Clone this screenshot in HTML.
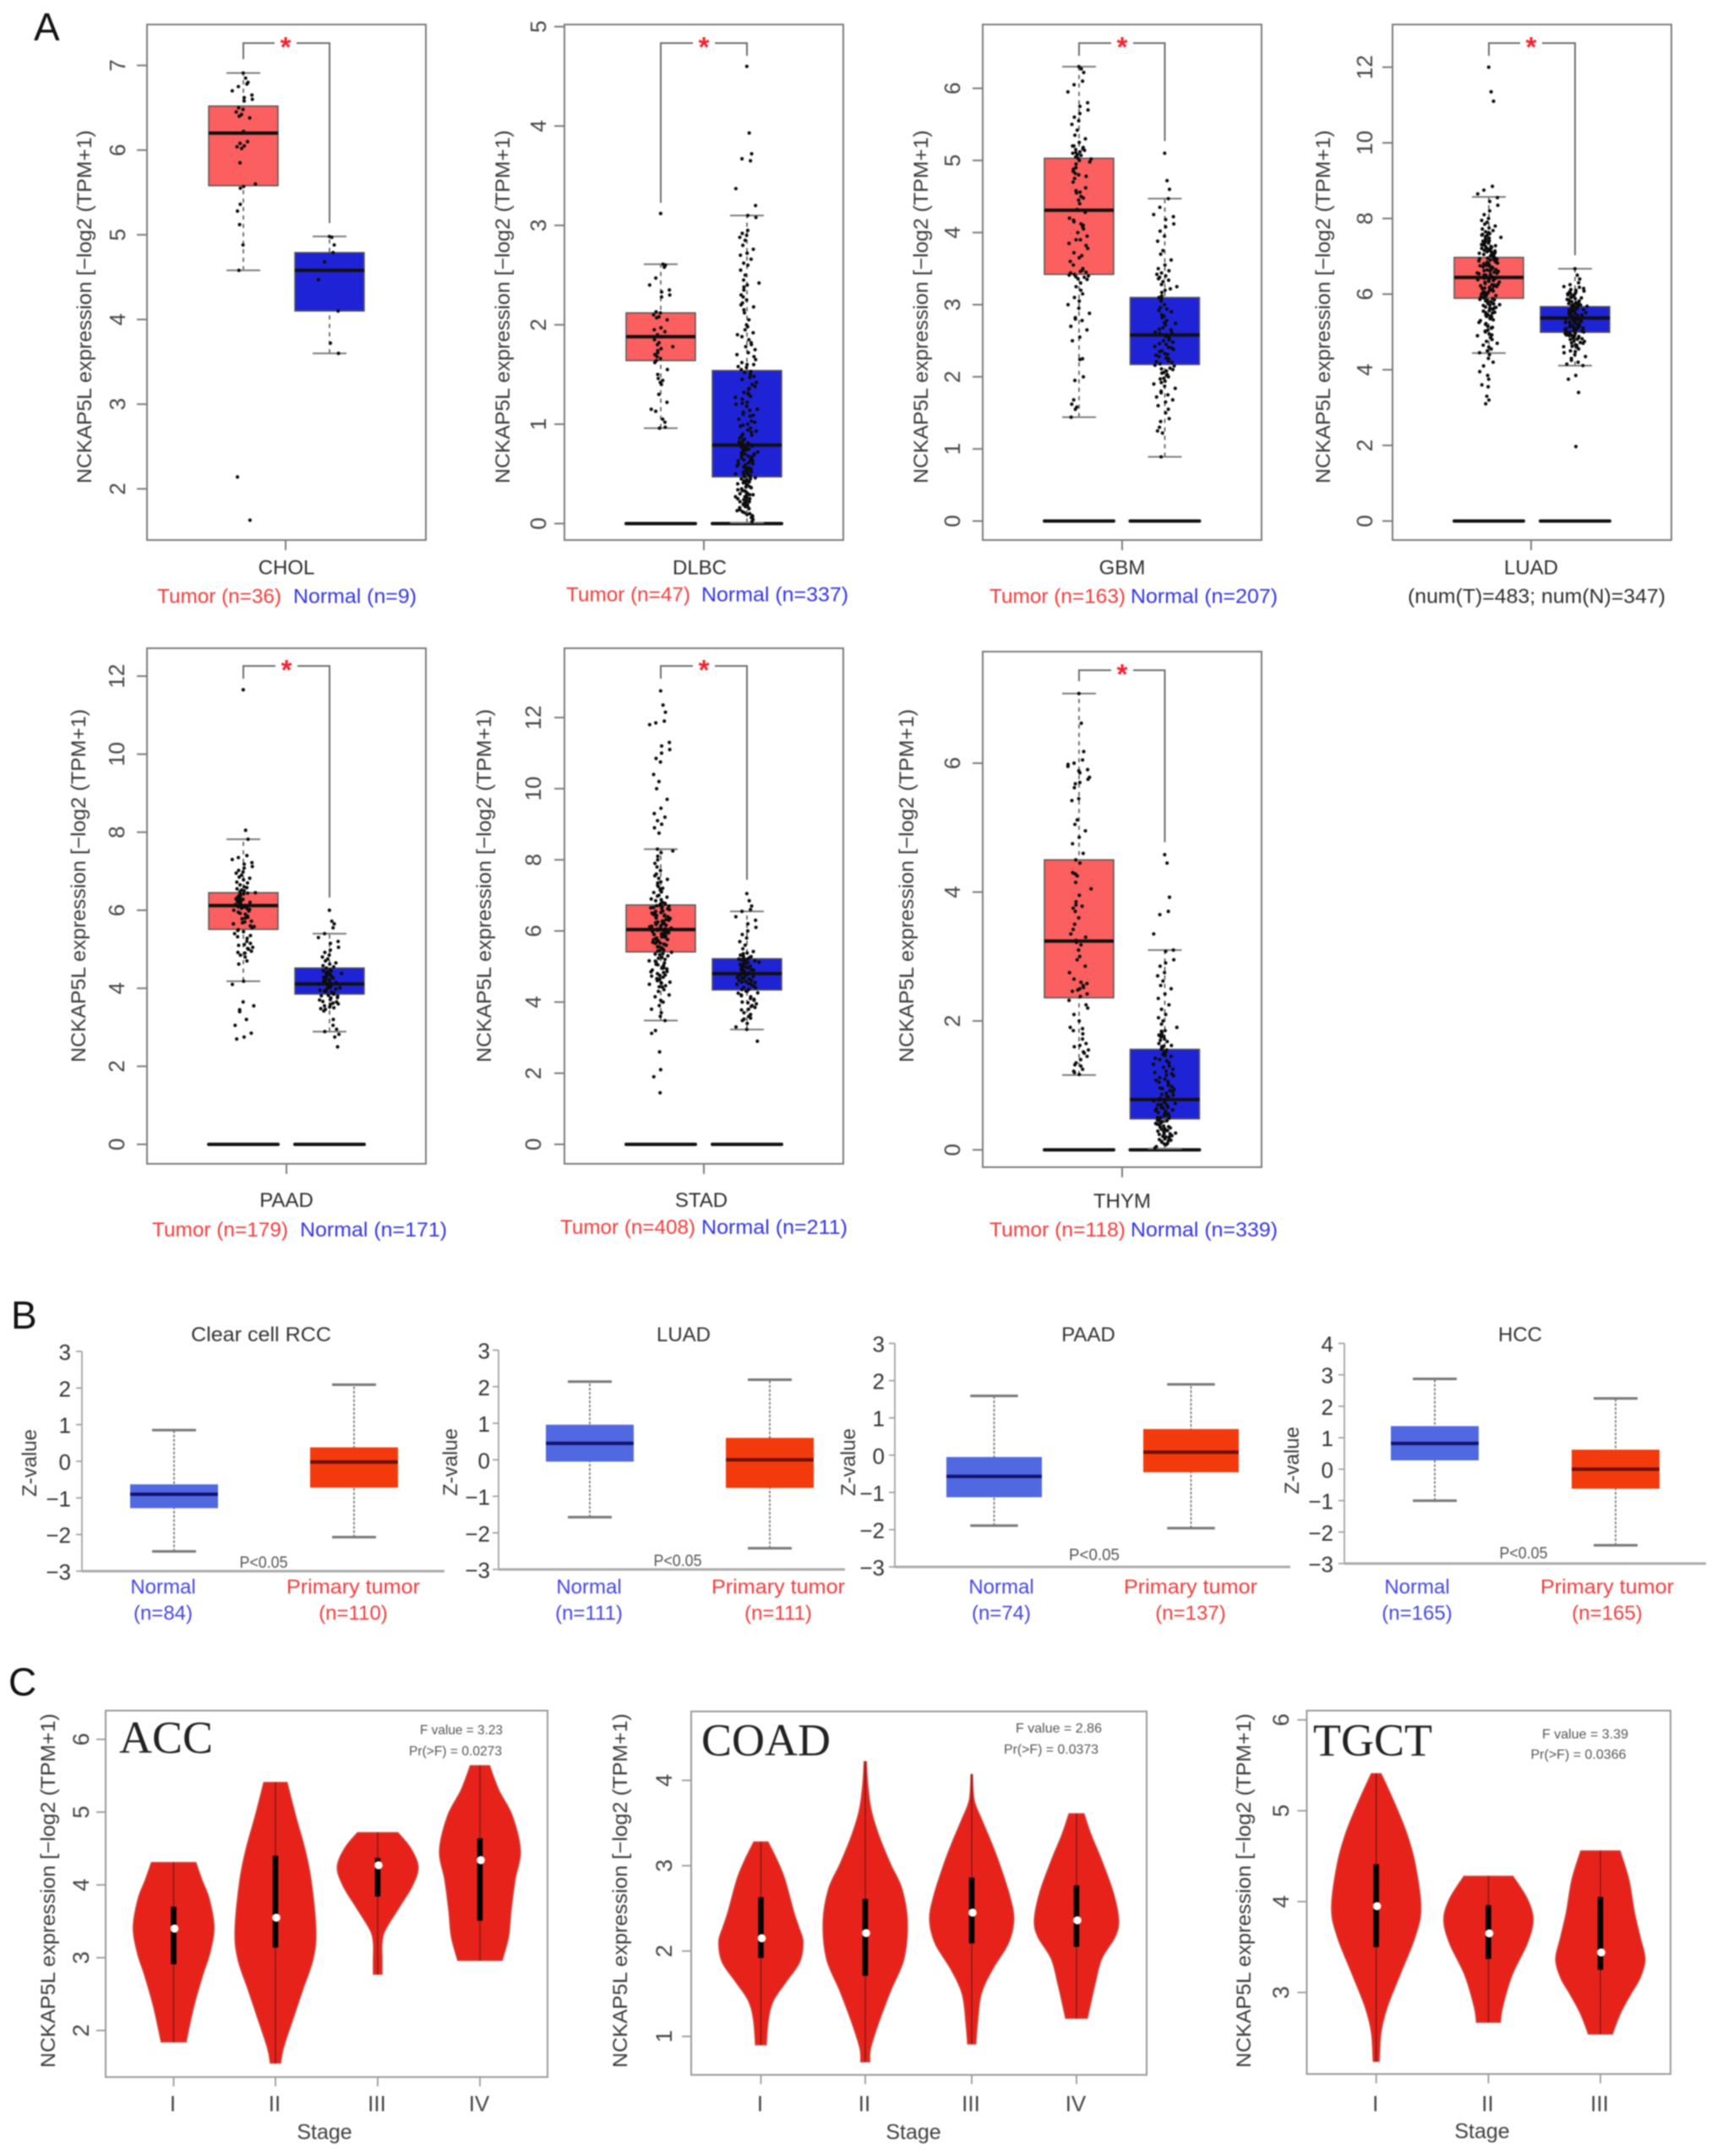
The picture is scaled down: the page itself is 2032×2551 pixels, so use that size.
<!DOCTYPE html>
<html lang="en">
<head>
<meta charset="utf-8">
<title>NCKAP5L expression figure</title>
<style>
html,body{margin:0;padding:0;background:#fff}
svg{display:block;filter:blur(.85px)}
text{font-family:"Liberation Sans",sans-serif}
.letter{font-size:46px;fill:#111}
.ytitle{font-size:24px;fill:#3a3a3a;text-anchor:middle}
.cat{font-size:24px;fill:#2e2e2e;text-anchor:middle}
.red{font-size:24px;fill:#f23b3b}
.blue{font-size:24px;fill:#3434e0}
.dark{font-size:24px;fill:#2e2e2e}
.btitle{font-size:24px;fill:#333;text-anchor:middle}
.zt{font-size:24px;fill:#3a3a3a;text-anchor:middle}
.pv{font-size:19px;fill:#555;text-anchor:middle}
.redm{font-size:24px;fill:#f23b3b;text-anchor:middle}
.bluem{font-size:24px;fill:#4646e0;text-anchor:middle}
.serif{font-family:"Liberation Serif",serif;font-size:54px;fill:#222}
.stat{font-size:16px;fill:#555;text-anchor:middle}
.stage{font-size:25px;fill:#3f3f3f;text-anchor:middle}
</style>
</head>
<body>
<svg id="figure" xmlns="http://www.w3.org/2000/svg" width="2032" height="2551" viewBox="0 0 2032 2551">
<rect x="0" y="0" width="2032" height="2551" fill="#fff"/>
<text class="letter" x="40" y="48">A</text>
<text class="letter" x="13" y="1572">B</text>
<text class="letter" x="10" y="2006">C</text>

<g id="plot-chol"></g>
<g id="plot-dlbc"></g>
<g id="plot-gbm"></g>
<g id="plot-luad"></g>
<g id="plot-paad"></g>
<g id="plot-stad"></g>
<g id="plot-thym"></g>

<g>
<text class="ytitle" transform="translate(108,363) rotate(-90)" textLength="418" lengthAdjust="spacingAndGlyphs">NCKAP5L expression [−log2 (TPM+1)</text>
<text class="cat" x="339" y="679.5">CHOL</text>
<text class="red" x="186" y="713.5" textLength="147" lengthAdjust="spacingAndGlyphs">Tumor (n=36)</text>
<text class="blue" x="347" y="713.5" textLength="146" lengthAdjust="spacingAndGlyphs">Normal (n=9)</text>

<text class="ytitle" transform="translate(603,363) rotate(-90)" textLength="418" lengthAdjust="spacingAndGlyphs">NCKAP5L expression [−log2 (TPM+1)</text>
<text class="cat" x="828" y="679.5">DLBC</text>
<text class="red" x="670" y="711.5" textLength="147" lengthAdjust="spacingAndGlyphs">Tumor (n=47)</text>
<text class="blue" x="830" y="711.5" textLength="174" lengthAdjust="spacingAndGlyphs">Normal (n=337)</text>

<text class="ytitle" transform="translate(1098,363) rotate(-90)" textLength="418" lengthAdjust="spacingAndGlyphs">NCKAP5L expression [−log2 (TPM+1)</text>
<text class="cat" x="1328" y="679.5">GBM</text>
<text class="red" x="1171" y="713.5" textLength="161" lengthAdjust="spacingAndGlyphs">Tumor (n=163)</text>
<text class="blue" x="1338" y="713.5" textLength="174" lengthAdjust="spacingAndGlyphs">Normal (n=207)</text>

<text class="ytitle" transform="translate(1574,363) rotate(-90)" textLength="418" lengthAdjust="spacingAndGlyphs">NCKAP5L expression [−log2 (TPM+1)</text>
<text class="cat" x="1812" y="679.5">LUAD</text>
<text class="dark" x="1666" y="713.5" textLength="305" lengthAdjust="spacingAndGlyphs">(num(T)=483; num(N)=347)</text>

<text class="ytitle" transform="translate(101,1048) rotate(-90)" textLength="418" lengthAdjust="spacingAndGlyphs">NCKAP5L expression [−log2 (TPM+1)</text>
<text class="cat" x="339" y="1428">PAAD</text>
<text class="red" x="180" y="1463" textLength="161" lengthAdjust="spacingAndGlyphs">Tumor (n=179)</text>
<text class="blue" x="355" y="1463" textLength="174" lengthAdjust="spacingAndGlyphs">Normal (n=171)</text>

<text class="ytitle" transform="translate(581,1048) rotate(-90)" textLength="418" lengthAdjust="spacingAndGlyphs">NCKAP5L expression [−log2 (TPM+1)</text>
<text class="cat" x="830" y="1428">STAD</text>
<text class="red" x="663" y="1460" textLength="160" lengthAdjust="spacingAndGlyphs">Tumor (n=408)</text>
<text class="blue" x="830" y="1460" textLength="173" lengthAdjust="spacingAndGlyphs">Normal (n=211)</text>

<text class="ytitle" transform="translate(1081,1048) rotate(-90)" textLength="418" lengthAdjust="spacingAndGlyphs">NCKAP5L expression [−log2 (TPM+1)</text>
<text class="cat" x="1328" y="1429">THYM</text>
<text class="red" x="1171" y="1463" textLength="161" lengthAdjust="spacingAndGlyphs">Tumor (n=118)</text>
<text class="blue" x="1338" y="1463" textLength="174" lengthAdjust="spacingAndGlyphs">Normal (n=339)</text>
</g>

<g id="zplot-rcc"></g>
<g id="zplot-luad"></g>
<g id="zplot-paad"></g>
<g id="zplot-hcc"></g>

<g>
<text class="btitle" x="309" y="1587" textLength="166" lengthAdjust="spacingAndGlyphs">Clear cell RCC</text>
<text class="zt" transform="translate(43,1731) rotate(-90)">Z-value</text>
<text class="pv" x="312" y="1855" textLength="57" lengthAdjust="spacingAndGlyphs">P&lt;0.05</text>
<text class="bluem" x="193" y="1885.5">Normal</text>
<text class="bluem" x="193" y="1916.5">(n=84)</text>
<text class="redm" x="418" y="1885.5" textLength="158" lengthAdjust="spacingAndGlyphs">Primary tumor</text>
<text class="redm" x="418" y="1916.5">(n=110)</text>

<text class="btitle" x="809" y="1587">LUAD</text>
<text class="zt" transform="translate(541,1730) rotate(-90)">Z-value</text>
<text class="pv" x="802" y="1853" textLength="57" lengthAdjust="spacingAndGlyphs">P&lt;0.05</text>
<text class="bluem" x="697" y="1885.5">Normal</text>
<text class="bluem" x="697" y="1916.5">(n=111)</text>
<text class="redm" x="921" y="1885.5" textLength="158" lengthAdjust="spacingAndGlyphs">Primary tumor</text>
<text class="redm" x="921" y="1916.5">(n=111)</text>

<text class="btitle" x="1288" y="1587">PAAD</text>
<text class="zt" transform="translate(1012,1730) rotate(-90)">Z-value</text>
<text class="pv" x="1295" y="1846" textLength="60" lengthAdjust="spacingAndGlyphs">P&lt;0.05</text>
<text class="bluem" x="1185" y="1885.5">Normal</text>
<text class="bluem" x="1185" y="1916.5">(n=74)</text>
<text class="redm" x="1409" y="1885.5" textLength="158" lengthAdjust="spacingAndGlyphs">Primary tumor</text>
<text class="redm" x="1409" y="1916.5">(n=137)</text>

<text class="btitle" x="1799" y="1587">HCC</text>
<text class="zt" transform="translate(1537,1728) rotate(-90)">Z-value</text>
<text class="pv" x="1803" y="1844" textLength="57" lengthAdjust="spacingAndGlyphs">P&lt;0.05</text>
<text class="bluem" x="1677" y="1885.5">Normal</text>
<text class="bluem" x="1677" y="1916.5">(n=165)</text>
<text class="redm" x="1902" y="1885.5" textLength="158" lengthAdjust="spacingAndGlyphs">Primary tumor</text>
<text class="redm" x="1902" y="1916.5">(n=165)</text>
</g>

<g id="violin-acc"></g>
<g id="violin-coad"></g>
<g id="violin-tgct"></g>

<g>
<text class="ytitle" transform="translate(65,2237) rotate(-90)" textLength="419" lengthAdjust="spacingAndGlyphs">NCKAP5L expression [−log2 (TPM+1)</text>
<text class="serif" x="141" y="2074">ACC</text>
<text class="stat" x="546" y="2052" textLength="98" lengthAdjust="spacingAndGlyphs">F value = 3.23</text>
<text class="stat" x="539" y="2077" textLength="110" lengthAdjust="spacingAndGlyphs">Pr(&gt;F) = 0.0273</text>
<text class="stage" x="384" y="2531">Stage</text>

<text class="ytitle" transform="translate(742,2237) rotate(-90)" textLength="419" lengthAdjust="spacingAndGlyphs">NCKAP5L expression [−log2 (TPM+1)</text>
<text class="serif" x="830" y="2077">COAD</text>
<text class="stat" x="1253" y="2050" textLength="102" lengthAdjust="spacingAndGlyphs">F value = 2.86</text>
<text class="stat" x="1244" y="2075" textLength="112" lengthAdjust="spacingAndGlyphs">Pr(&gt;F) = 0.0373</text>
<text class="stage" x="1081" y="2531">Stage</text>

<text class="ytitle" transform="translate(1480,2237) rotate(-90)" textLength="419" lengthAdjust="spacingAndGlyphs">NCKAP5L expression [−log2 (TPM+1)</text>
<text class="serif" x="1554" y="2077">TGCT</text>
<text class="stat" x="1876" y="2057" textLength="102" lengthAdjust="spacingAndGlyphs">F value = 3.39</text>
<text class="stat" x="1868" y="2081" textLength="113" lengthAdjust="spacingAndGlyphs">Pr(&gt;F) = 0.0366</text>
<text class="stage" x="1754" y="2530">Stage</text>
</g>
</svg>

<script>
/* ---------- Panel A data: box stats are [lowerWhisker, q1, median, q3, upperWhisker] ---------- */
const cholTicks=[2,3,4,5,6,7];
const cholTumorBox=[4.58,5.58,6.2,6.52,6.91];
const cholNormalBox=[3.6,4.1,4.58,4.79,4.98];
const cholTumorPoints=[6.91,6.85,6.8,6.78,6.75,6.7,6.65,6.62,6.6,6.58,6.5,6.48,6.45,6.42,6.4,6.38,6.22,6.2,6.1,6.08,6.05,6.04,6.02,5.85,5.6,5.57,5.55,5.36,5.28,5.12,4.88,4.58,2.14,1.63];
const cholNormalPoints=[4.98,4.97,4.88,4.79,4.68,4.47,4.1,3.72,3.6];

const dlbcTicks=[0,1,2,3,4,5];
const dlbcTumorBox=[0.96,1.64,1.88,2.12,2.61];
const dlbcNormalBox=[0.01,0.47,0.79,1.54,3.1];
const dlbcTumorPoints=[3.12,2.61,2.6,2.58,2.47,2.4,2.35,2.33,2.3,2.28,2.13,2.12,2.1,2.08,2.07,2.05,1.97,1.95,1.93,1.9,1.88,1.85,1.82,1.8,1.78,1.76,1.74,1.72,1.7,1.68,1.66,1.64,1.62,1.55,1.5,1.46,1.44,1.42,1.4,1.3,1.22,1.15,1.13,1.05,1.02,0.97,0.96];
const dlbcNormalPoints=[4.6,3.93,3.72,3.65,3.67,3.37,3.2,3.1,3.08,2.95,2.92,2.9,2.88,2.85,2.8,2.76,2.72,2.7,2.66,2.62,2.6,2.55,2.5,2.45,2.42,2.4,2.38,2.35,2.3,2.28,2.25,2.22,2.2,2.18,2.15,2.12,2.05,2,1.98,1.95,1.92,1.9,1.88,1.85,1.82,1.8,1.78,1.75,1.72,1.7,1.68,1.65,1.62,1.6,1.58,1.55,1.53,1.5,1.48,1.45,1.42,1.4,1.38,1.35,1.32,1.3,1.28,1.25,1.22,1.2,1.18,1.15,1.12,1.1,1.08,1.05,1.02,1,0.98,0.96,0.94,0.92,0.9,0.88,0.86,0.85,0.84,0.82,0.8,0.79,0.78,0.76,0.75,0.74,0.72,0.71,0.7,0.68,0.67,0.66,0.65,0.64,0.62,0.61,0.6,0.58,0.57,0.56,0.55,0.54,0.52,0.51,0.5,0.49,0.48,0.47,0.46,0.45,0.44,0.42,0.41,0.4,0.39,0.38,0.36,0.35,0.34,0.32,0.31,0.3,0.28,0.27,0.26,0.24,0.23,0.22,0.2,0.19,0.18,0.16,0.15,0.14,0.12,0.1,0.08,0.06,0.04,0.02,1.6,1.57,1.52,1.47,1.36,1.31,1.27,1.21,1.14,1.09,1.03,0.99,0.93,0.89,0.83,0.81,0.77,0.73,0.69,0.69,0.63,0.59,0.55,0.53,0.5,0.47,0.43,0.43,0.37,0.33,0.33,0.29,0.29,0.25,0.25,0.21,0.17,0.17,0.13,0.11,0.09,0.07,0.81,0.77,0.74,0.7,0.66,0.63,0.6,0.56,0.52,0.48,0.45,0.41,0.37,0.3,0.27,0.22,0.19];

const gbmTicks=[0,1,2,3,4,5,6];
const gbmTumorBox=[1.44,3.42,4.31,5.03,6.3];
const gbmNormalBox=[0.89,2.17,2.58,3.1,4.47];
const gbmTumorPoints=[6.3,6.27,6.22,6.1,6.05,5.95,5.8,5.75,5.7,5.65,5.6,5.55,5.5,5.42,5.35,5.3,5.25,5.2,5.18,5.15,5.12,5.1,5.08,5.05,5.02,5,4.95,4.9,4.85,4.82,4.8,4.75,4.7,4.62,4.58,4.55,4.5,4.45,4.4,4.32,4.28,4.2,4.15,4.12,4.1,4.05,4,3.95,3.9,3.85,3.82,3.78,3.72,3.65,3.6,3.55,3.5,3.48,3.45,3.42,3.4,3.38,3.35,3.3,3.25,3.2,3.15,3.1,3.05,3,2.95,2.88,2.82,2.8,2.78,2.7,2.65,2.55,2.5,2.25,2.24,2,1.95,1.68,1.62,1.58,1.55,1.44,5.2,5.16,5.14,5.11,5.07,5.03,4.98,4.88,4.78,4.56,4.48,4.17,4.08,3.9,3.68,3.46,3.44,3.41,3.39,3.36];
const gbmNormalPoints=[5.1,4.72,4.6,4.47,4.35,4.25,4.22,4.18,4.12,4.08,4.02,3.95,3.88,3.75,3.7,3.62,3.55,3.5,3.47,3.44,3.4,3.36,3.32,3.28,3.25,3.2,3.17,3.12,3.1,3.05,3,2.96,2.92,2.9,2.86,2.82,2.78,2.75,2.72,2.68,2.65,2.62,2.6,2.58,2.55,2.52,2.5,2.48,2.45,2.42,2.4,2.38,2.35,2.32,2.3,2.28,2.25,2.22,2.2,2.18,2.15,2.12,2.1,2.08,2.05,2.02,2,1.97,1.94,1.9,1.87,1.84,1.8,1.78,1.75,1.72,1.68,1.65,1.6,1.55,1.5,1.42,1.38,1.3,1.25,1.22,0.89,3.42,3.38,3.34,3.22,3.08,2.94,2.84,2.74,2.66,2.61,2.56,2.51,2.46,2.41,2.36,2.31,2.26,2.21,2.16,2.11,2.06,2.03,1.98,1.92];

const luadTicks=[0,2,4,6,8,10,12];
const luadTumorBox=[4.44,5.89,6.44,6.97,8.57];
const luadNormalBox=[4.11,4.99,5.37,5.67,6.67];
const luadTumorPoints=[12,11.35,11.1,8.85,8.75,8.65,8.55,8.45,8.35,8.2,8.1,8,7.95,7.9,7.85,7.8,7.75,7.72,7.68,7.65,7.6,7.58,7.55,7.52,7.5,7.48,7.45,7.42,7.4,7.38,7.35,7.32,7.3,7.28,7.25,7.22,7.2,7.18,7.15,7.12,7.1,7.08,7.05,7.02,7,6.98,6.95,6.92,6.9,6.88,6.85,6.82,6.8,6.78,6.75,6.72,6.7,6.68,6.65,6.62,6.6,6.58,6.55,6.52,6.5,6.48,6.45,6.42,6.4,6.38,6.35,6.32,6.3,6.28,6.25,6.22,6.2,6.18,6.15,6.12,6.1,6.08,6.05,6.02,6,5.98,5.95,5.92,5.9,5.88,5.85,5.82,5.8,5.75,5.72,5.7,5.65,5.62,5.6,5.55,5.5,5.45,5.4,5.35,5.3,5.25,5.2,5.15,5.1,5.05,5,4.95,4.9,4.85,4.8,4.75,4.7,4.65,4.6,4.55,4.5,4.45,4.4,4.3,4.2,4.1,3.95,3.85,3.75,3.6,3.55,3.3,3.2,3.1,7.62,7.56,7.47,7.41,7.36,7.31,7.26,7.21,7.16,7.11,7.06,7.01,6.96,6.91,6.86,6.81,6.76,6.71,6.66,6.61,6.56,6.51,6.46,6.41,6.36,6.31,6.26,6.21,6.16,6.11,6.06,6.01,5.96,5.91,5.86,5.81,5.76,5.71,5.66,5.61,5.56,5.51,5.46,5.41,7.34,7.24,7.14,7.04,6.94,6.84,6.74,6.64,6.54,6.44,6.34,6.24,6.14,6.04,5.94,5.84,5.74,5.64,5.52,5.42,5.32,5.22,5.12,5.02,4.92];
const luadNormalPoints=[6.67,6.5,6.4,6.3,6.25,6.2,6.15,6.1,6.08,6.05,6.02,6,5.98,5.95,5.92,5.9,5.88,5.85,5.82,5.8,5.78,5.75,5.72,5.7,5.68,5.65,5.62,5.6,5.58,5.55,5.52,5.5,5.48,5.45,5.42,5.4,5.38,5.35,5.33,5.3,5.28,5.25,5.22,5.2,5.18,5.15,5.12,5.1,5.08,5.05,5.02,5,4.98,4.95,4.92,4.9,4.88,4.85,4.82,4.8,4.75,4.72,4.7,4.65,4.62,4.6,4.55,4.5,4.48,4.45,4.4,4.35,4.3,4.25,4.2,4.15,4.11,3.85,3.75,3.4,1.97,6.18,6.12,6.06,6.01,5.96,5.91,5.86,5.81,5.76,5.71,5.66,5.61,5.56,5.51,5.46,5.41,5.36,5.31,5.26,5.21,5.16,5.11,5.06,5.01,4.96,4.91,4.86,4.81,4.76,4.71,4.66,4.61,5.74,5.69,5.64,5.59,5.54,5.49,5.44,5.39,5.34,5.29,5.24,5.19,5.14,5.09,5.04,4.99,4.94,4.89,4.84];

const paadTicks=[0,2,4,6,8,10,12];
const paadTumorBox=[4.18,5.51,6.12,6.45,7.82];
const paadNormalBox=[2.89,3.85,4.11,4.52,5.4];
const paadTumorPoints=[11.65,8.05,7.82,7.4,7.35,7.3,7.22,7.18,7.12,7.08,7.02,6.98,6.95,6.9,6.85,6.82,6.78,6.72,6.7,6.65,6.6,6.55,6.52,6.48,6.45,6.42,6.4,6.35,6.32,6.3,6.28,6.25,6.22,6.2,6.18,6.15,6.12,6.1,6.08,6.05,6.02,6,5.95,5.9,5.85,5.82,5.78,5.72,5.7,5.65,5.6,5.55,5.5,5.45,5.4,5.32,5.28,5.2,5.15,5.1,5.05,5,4.95,4.9,4.85,4.8,4.7,4.62,4.18,4.1,3.65,3.55,3.45,3.4,3.2,3.05,2.85,2.75,2.7,6.58,6.5,6.44,6.38,6.34,6.29,6.24,6.19,6.14,6.09,6.04,5.98,5.92,5.8,5.68,5.58,5.48,5.35,5.12,5.02,4.92];
const paadNormalPoints=[6,5.72,5.65,5.55,5.4,5.3,5.2,5.15,5.05,4.98,4.92,4.85,4.8,4.75,4.7,4.65,4.62,4.58,4.55,4.52,4.48,4.45,4.42,4.4,4.38,4.35,4.32,4.3,4.28,4.25,4.22,4.2,4.18,4.15,4.12,4.1,4.08,4.05,4.02,4,3.98,3.95,3.92,3.9,3.88,3.85,3.82,3.8,3.75,3.7,3.65,3.6,3.55,3.52,3.48,3.42,3.2,3.05,2.95,2.89,2.82,2.75,2.5,4.44,4.36,4.31,4.26,4.21,4.16,4.11,4.06,4.01,3.96,3.91,3.86,3.81,3.76,3.71,3.66,3.62,3.58,3.5,3.46];

const stadTicks=[0,2,4,6,8,10,12];
const stadTumorBox=[3.48,5.41,6.04,6.73,8.3];
const stadNormalBox=[3.23,4.34,4.8,5.22,6.55];
const stadTumorPoints=[12.75,12.35,12.15,11.9,11.85,11.8,11.3,11.2,11.1,11,10.85,10.75,10.4,10.2,10,9.7,9.45,9.3,9.2,9.1,9,8.9,8.75,8.3,8.25,8.2,8.1,8,7.9,7.8,7.7,7.6,7.55,7.45,7.35,7.25,7.2,7.15,7.1,7,6.95,6.9,6.85,6.8,6.78,6.75,6.72,6.7,6.68,6.65,6.62,6.6,6.55,6.52,6.5,6.48,6.45,6.42,6.4,6.38,6.35,6.32,6.3,6.28,6.25,6.22,6.2,6.18,6.15,6.12,6.1,6.08,6.05,6.02,6,5.98,5.95,5.92,5.9,5.88,5.85,5.82,5.8,5.78,5.75,5.72,5.7,5.68,5.65,5.62,5.6,5.55,5.5,5.45,5.4,5.35,5.3,5.25,5.2,5.15,5.1,5.05,5,4.95,4.9,4.85,4.8,4.75,4.7,4.65,4.6,4.55,4.5,4.42,4.35,4.3,4.2,4.15,4.05,4,3.9,3.8,3.7,3.6,3.48,3.2,3.12,2.6,2.1,1.9,1.45,7.48,7.38,7.28,7.18,7.08,6.98,6.88,6.76,6.66,6.56,6.46,6.36,6.26,6.16,6.06,5.96,5.86,5.76,5.66,5.56,5.46,5.36,5.26,5.16,5.06,4.96,4.86,4.76,4.66,4.56,4.46,6.71,6.63,6.53,6.43,6.33,6.23,6.13,6.03,5.93,5.83,5.73,5.63,5.53,5.43,5.33,5.23,5.13,5.03,4.93,4.83,4.73,4.63,4.53,4.43];
const stadNormalPoints=[7.05,6.85,6.7,6.6,6.55,6.4,6.3,6.2,6.1,6,5.9,5.8,5.7,5.6,5.5,5.42,5.38,5.32,5.28,5.25,5.22,5.2,5.18,5.15,5.12,5.1,5.08,5.05,5.02,5,4.98,4.95,4.92,4.9,4.88,4.85,4.82,4.8,4.78,4.75,4.72,4.7,4.68,4.65,4.62,4.6,4.58,4.55,4.52,4.5,4.45,4.4,4.35,4.3,4.25,4.2,4.15,4.1,4.05,4,3.95,3.9,3.85,3.8,3.7,3.6,3.55,3.48,3.4,3.3,3.23,2.9,5.36,5.3,5.26,5.21,5.16,5.11,5.06,5.01,4.96,4.91,4.86,4.81,4.76,4.71,4.66,4.61,4.56,4.51,4.46,4.41,4.36,4.31,4.26,4.18,4.08,3.98,3.88,3.78,3.65,3.52];

const thymTicks=[0,2,4,6];
const thymTumorBox=[1.16,2.36,3.24,4.5,7.08];
const thymNormalBox=[0.02,0.48,0.78,1.56,3.1];
const thymTumorPoints=[7.08,6.62,6.18,6.05,6,5.95,5.9,5.85,5.75,5.7,5.62,5.45,5.42,5.12,5.05,4.95,4.85,4.75,4.6,4.5,4.45,4.3,4.25,4.15,4.05,3.95,3.85,3.8,3.75,3.7,3.6,3.5,3.42,3.3,3.25,3.22,3.18,3.1,3,2.95,2.85,2.75,2.65,2.6,2.55,2.52,2.48,2.42,2.38,2.32,2.25,2.2,2.1,2,1.9,1.85,1.8,1.72,1.65,1.6,1.55,1.5,1.45,1.4,1.35,1.3,1.25,1.2,1.17,5.98,5.88,5.78,5.68,4.28,3.78,3.35,2.58,2.5,2.46,1.88,1.62,1.52,1.32,1.22];
const thymNormalPoints=[4.58,4.45,3.92,3.7,3.65,3.35,3.1,3.08,2.95,2.9,2.85,2.75,2.7,2.62,2.55,2.5,2.42,2.35,2.25,2.18,2.1,2.05,2,1.95,1.9,1.85,1.82,1.8,1.78,1.75,1.72,1.7,1.65,1.62,1.6,1.58,1.55,1.52,1.5,1.48,1.45,1.42,1.4,1.38,1.35,1.3,1.28,1.25,1.22,1.2,1.18,1.15,1.12,1.1,1.08,1.05,1.02,1,0.98,0.96,0.94,0.92,0.9,0.88,0.86,0.84,0.82,0.8,0.78,0.76,0.74,0.72,0.7,0.68,0.66,0.64,0.62,0.6,0.58,0.56,0.54,0.52,0.5,0.48,0.46,0.44,0.42,0.4,0.38,0.36,0.34,0.32,0.3,0.28,0.26,0.24,0.22,0.2,0.18,0.16,0.14,0.12,0.1,0.08,0.05,0.03,1.84,1.76,1.68,1.61,1.56,1.46,1.33,1.16,1.06,0.95,0.85,0.77,0.73,0.69,0.65,0.61,0.57,0.53,0.49,0.45,0.41,0.37,0.33,0.29,0.25,0.21,0.17,0.13,0.09,0.7,0.65,0.6,0.55,0.5,0.45,0.4,0.35,0.3,0.25,0.2,0.15];

/* ---------- Panel B data ---------- */
const rccTicks=[-3,-2,-1,0,1,2,3];
const rccNormalBox=[-2.46,-1.28,-0.9,-0.63,0.85];
const rccTumorBox=[-2.07,-0.72,-0.02,0.38,2.09];
const luadProteinTicks=[-3,-2,-1,0,1,2,3];
const luadProteinNormalBox=[-1.57,-0.05,0.45,0.96,2.14];
const luadProteinTumorBox=[-2.42,-0.77,0,0.6,2.19];
const paadProteinTicks=[-3,-2,-1,0,1,2,3];
const paadProteinNormalBox=[-1.89,-1.13,-0.57,-0.05,1.59];
const paadProteinTumorBox=[-1.96,-0.46,0.08,0.7,1.9];
const hccTicks=[-3,-2,-1,0,1,2,3,4];
const hccNormalBox=[-1,0.28,0.82,1.37,2.87];
const hccTumorBox=[-2.42,-0.62,0,0.62,2.25];

/* ---------- Panel C data: expression grid, relative density, inner box [q1, median, q3] ---------- */
const accTicks=[2,3,4,5,6];
const accStages=['I','II','III','IV'];
const accIValues=[4.31,4.07,3.81,3.42,3.07,2.76,2.33,1.84];
const accIDensity=[0.55,0.70,0.88,1,0.90,0.72,0.50,0.31];
const accIBox=[2.91,3.40,3.70];
const accIIValues=[5.41,4.95,4.51,4.07,3.38,2.98,2.55,2.2,1.76,1.55];
const accIIDensity=[0.29,0.5,0.72,0.88,1,0.93,0.67,0.46,0.2,0.13];
const accIIBox=[3.14,3.55,4.40];
const accIIIValues=[4.72,4.51,4.25,3.99,3.68,3.38,3.2,2.98,2.77];
const accIIIDensity=[0.5,0.81,1,0.86,0.52,0.19,0.11,0.11,0.11];
const accIIIBox=[3.84,4.27,4.37];
const accIVValues=[5.64,5.30,4.95,4.47,4.07,3.64,3.29,2.96];
const accIVDensity=[0.24,0.47,0.8,1,0.87,0.77,0.71,0.55];
const accIVBox=[3.51,4.34,4.64];

const coadTicks=[1,2,3,4];
const coadStages=['I','II','III','IV'];
const coadIValues=[3.28,3.06,2.84,2.46,2.28,2.11,1.87,1.64,1.42,1.2,0.9];
const coadIDensity=[0.17,0.39,0.57,0.78,0.9,1,0.92,0.6,0.3,0.18,0.13];
const coadIBox=[1.92,2.15,2.63];
const coadIIValues=[4.22,3.96,3.66,3.36,3.02,2.73,2.35,1.91,1.53,1.16,0.86,0.7];
const coadIIDensity=[0.03,0.06,0.14,0.32,0.6,0.87,1,0.92,0.6,0.32,0.13,0.11];
const coadIIBox=[1.71,2.21,2.61];
const coadIIIValues=[4.07,3.77,3.55,3.28,3.02,2.65,2.37,2.09,1.79,1.5,1.16,0.91];
const coadIIIDensity=[0.02,0.06,0.23,0.46,0.66,0.9,1,0.87,0.5,0.23,0.14,0.1];
const coadIIIBox=[2.09,2.45,2.86];
const coadIVValues=[3.61,3.36,3.06,2.69,2.37,2.17,1.91,1.61,1.21];
const coadIVDensity=[0.18,0.35,0.6,0.87,1,0.92,0.6,0.44,0.26];
const coadIVBox=[2.05,2.36,2.77];

const tgctTicks=[3,4,5,6];
const tgctStages=['I','II','III'];
const tgctIValues=[5.41,5.12,4.77,4.42,3.93,3.61,3.19,2.84,2.56,2.24];
const tgctIDensity=[0.11,0.38,0.67,0.87,1,0.87,0.53,0.25,0.11,0.07];
const tgctIBox=[3.5,3.95,4.41];
const tgctIIValues=[4.28,4.03,3.8,3.54,3.19,2.84,2.67];
const tgctIIDensity=[0.55,0.87,1,0.87,0.53,0.32,0.27];
const tgctIIBox=[3.37,3.65,3.96];
const tgctIIIValues=[4.56,4.24,3.89,3.61,3.37,3.16,2.98,2.77,2.54];
const tgctIIIDensity=[0.44,0.64,0.76,0.89,1,0.89,0.68,0.45,0.27];
const tgctIIIBox=[3.25,3.44,4.05];

/* ---------- Drawing ---------- */
const NS='http://www.w3.org/2000/svg';
function mk(parent,tag,attrs,txt){
  const el=document.createElementNS(NS,tag);
  for(const k in attrs){el.setAttribute(k,attrs[k]);}
  if(txt!==undefined){el.textContent=txt;}
  parent.appendChild(el);
  return el;
}
function linear(v0,p0,v1,p1){
  return function(v){return p0+(v-v0)*(p1-p0)/(v1-v0);};
}
function hash01(n){
  const s=Math.sin(n*12.9898+4.1)*43758.5453;
  return s-Math.floor(s);
}
/* Horizontal display jitter only (the values themselves come from the arrays). */
function jitter(i,half){
  return (hash01(i+1)+hash01(i+101)-1)*half;
}

const GRAY='#7c7c7c';
function drawBoxGroup(g,prefix,cx,box,points,y,fill){
  const half=41;
  const capHalf=20;
  const stem=mk(g,'line',{x1:cx,x2:cx,y1:y(box[0]),y2:y(box[4]),stroke:'#555','stroke-width':1.6,'stroke-dasharray':'5 5'});
  
  
  const capLow=mk(g,'line',{x1:cx-capHalf,x2:cx+capHalf,y1:y(box[0]),y2:y(box[0]),stroke:GRAY,'stroke-width':2});
  
  
  const capHigh=mk(g,'line',{x1:cx-capHalf,x2:cx+capHalf,y1:y(box[4]),y2:y(box[4]),stroke:GRAY,'stroke-width':2});
  
  
  const rect=mk(g,'rect',{x:cx-half,width:half*2,y:y(box[3]),height:y(box[1])-y(box[3]),fill:fill,stroke:'#555','stroke-width':1.5});
  
  
  const median=mk(g,'line',{x1:cx-half,x2:cx+half,y1:y(box[2]),y2:y(box[2]),stroke:'#111','stroke-width':4});
  
  
  points.forEach(function(v,i){
    const dot=mk(g,'circle',{cx:cx+jitter(i,15),cy:y(v),r:2.1,fill:'#0c0c0c'});
    
    
  });
}

function drawExpressionPanel(cfg){
  const g=document.getElementById(cfg.id);
  const y=linear(cfg.anchor[0],cfg.anchor[1],cfg.anchor[2],cfg.anchor[3]);
  const frame=mk(g,'rect',{x:cfg.L,y:cfg.T,width:cfg.R-cfg.L,height:cfg.B-cfg.T,fill:'none',stroke:GRAY,'stroke-width':2});
  
  
  cfg.ticks.forEach(function(t){
    const tick=mk(g,'line',{x1:cfg.L-12,x2:cfg.L,y1:y(t),y2:y(t),stroke:GRAY,'stroke-width':2});
    
    
    const label=mk(g,'text',{transform:'translate('+(cfg.tickX+9)+','+y(t)+') rotate(-90)','text-anchor':'middle','font-size':26,fill:'#444'},String(t));
    
    
  });
  const xTick=mk(g,'line',{x1:cfg.starX,x2:cfg.starX,y1:cfg.B,y2:cfg.B+12,stroke:GRAY,'stroke-width':2});
  
  
  if(cfg.zeroBars){
    [cfg.tumorX,cfg.normalX].forEach(function(cx){
      const bar=mk(g,'line',{x1:cx-41,x2:cx+41,y1:y(0),y2:y(0),stroke:'#111','stroke-width':4,'stroke-linecap':'round'});
      
      
    });
  }
  drawBoxGroup(g,cfg.name+'-tumor',cfg.tumorX,cfg.tumorBox,cfg.tumorPoints,y,'#fb5f5f');
  drawBoxGroup(g,cfg.name+'-normal',cfg.normalX,cfg.normalBox,cfg.normalPoints,y,'#1f23d6');
  const bracket=mk(g,'path',{d:'M'+cfg.tumorX+' '+cfg.bracketLeft+'V'+cfg.bracketY+'H'+cfg.normalX+'V'+cfg.bracketRight,fill:'none',stroke:'#6e6e6e','stroke-width':2});
  
  
  const gap=mk(g,'rect',{x:cfg.starX-13,y:cfg.bracketY-5,width:26,height:10,fill:'#fff'});
  
  
  const star=mk(g,'text',{x:cfg.starX,y:cfg.bracketY+16,'text-anchor':'middle','font-size':33,'font-weight':'bold',fill:'#f4222c'},'*');
  
  
}

const panelsA=[
 {id:'plot-chol',name:'chol',L:174,R:504,T:29,B:639,anchor:[2,578.4,7,77.4],ticks:cholTicks,tickX:139,tumorX:288,normalX:390,tumorBox:cholTumorBox,normalBox:cholNormalBox,tumorPoints:cholTumorPoints,normalPoints:cholNormalPoints,bracketY:51,bracketLeft:70,bracketRight:264,starX:338,zeroBars:false},
 {id:'plot-dlbc',name:'dlbc',L:668,R:998,T:29,B:639,anchor:[0,619.5,5,31.5],ticks:dlbcTicks,tickX:637,tumorX:782,normalX:884,tumorBox:dlbcTumorBox,normalBox:dlbcNormalBox,tumorPoints:dlbcTumorPoints,normalPoints:dlbcNormalPoints,bracketY:51,bracketLeft:240,bracketRight:66,starX:833,zeroBars:true},
 {id:'plot-gbm',name:'gbm',L:1163,R:1493,T:29,B:639,anchor:[0,616.5,6,104.5],ticks:gbmTicks,tickX:1127,tumorX:1277,normalX:1378.5,tumorBox:gbmTumorBox,normalBox:gbmNormalBox,tumorPoints:gbmTumorPoints,normalPoints:gbmNormalPoints,bracketY:51,bracketLeft:66,bracketRight:167,starX:1328,zeroBars:true},
 {id:'plot-luad',name:'luad',L:1648,R:1978,T:29,B:639,anchor:[0,616.5,12,79.5],ticks:luadTicks,tickX:1615,tumorX:1762,normalX:1864,tumorBox:luadTumorBox,normalBox:luadNormalBox,tumorPoints:luadTumorPoints,normalPoints:luadNormalPoints,bracketY:51,bracketLeft:66,bracketRight:302,starX:1812,zeroBars:true},
 {id:'plot-paad',name:'paad',L:174,R:504,T:767,B:1377,anchor:[0,1354,12,800],ticks:paadTicks,tickX:138,tumorX:288,normalX:390,tumorBox:paadTumorBox,normalBox:paadNormalBox,tumorPoints:paadTumorPoints,normalPoints:paadNormalPoints,bracketY:788,bracketLeft:803,bracketRight:1062,starX:339,zeroBars:true},
 {id:'plot-stad',name:'stad',L:668,R:998,T:767,B:1377,anchor:[0,1354,12,849],ticks:stadTicks,tickX:631,tumorX:782,normalX:884,tumorBox:stadTumorBox,normalBox:stadNormalBox,tumorPoints:stadTumorPoints,normalPoints:stadNormalPoints,bracketY:788,bracketLeft:803,bracketRight:1041,starX:833,zeroBars:true},
 {id:'plot-thym',name:'thym',L:1163,R:1493,T:771,B:1381,anchor:[0,1360.5,6,903],ticks:thymTicks,tickX:1127,tumorX:1277,normalX:1378.5,tumorBox:thymTumorBox,normalBox:thymNormalBox,tumorPoints:thymTumorPoints,normalPoints:thymNormalPoints,bracketY:793,bracketLeft:806,bracketRight:996.5,starX:1328,zeroBars:true}
];
panelsA.forEach(drawExpressionPanel);

function drawProteinBox(g,prefix,cx,half,box,y,fill,medColor){
  const stem=mk(g,'line',{x1:cx,x2:cx,y1:y(box[0]),y2:y(box[4]),stroke:'#666','stroke-width':1.6,'stroke-dasharray':'3 2'});
  
  
  const capLow=mk(g,'line',{x1:cx-half/2,x2:cx+half/2,y1:y(box[0]),y2:y(box[0]),stroke:'#777','stroke-width':3});
  
  
  const capHigh=mk(g,'line',{x1:cx-half/2,x2:cx+half/2,y1:y(box[4]),y2:y(box[4]),stroke:'#777','stroke-width':3});
  
  
  const rect=mk(g,'rect',{x:cx-half,width:half*2,y:y(box[3]),height:y(box[1])-y(box[3]),fill:fill});
  
  
  const median=mk(g,'line',{x1:cx-half,x2:cx+half,y1:y(box[2]),y2:y(box[2]),stroke:medColor,'stroke-width':4});
  
  
}
function drawProteinPanel(cfg){
  const g=document.getElementById(cfg.id);
  const y=linear(cfg.anchor[0],cfg.anchor[1],cfg.anchor[2],cfg.anchor[3]);
  const axis=mk(g,'line',{x1:cfg.axisX,x2:cfg.axisX,y1:y(cfg.ticks[cfg.ticks.length-1]),y2:y(cfg.ticks[0]),stroke:'#999','stroke-width':1.6});
  
  
  const base=mk(g,'line',{x1:cfg.axisX,x2:cfg.axisR,y1:y(cfg.ticks[0]),y2:y(cfg.ticks[0]),stroke:'#aaa','stroke-width':3});
  
  
  cfg.ticks.forEach(function(t){
    const tick=mk(g,'line',{x1:cfg.axisX-7,x2:cfg.axisX,y1:y(t),y2:y(t),stroke:'#999','stroke-width':1.6});
    
    
    const label=mk(g,'text',{x:cfg.labelRight,y:y(t)+10,'text-anchor':'end','font-size':26,fill:'#333'},String(t).replace('-','\u2212'));
    
    
  });
  drawProteinBox(g,cfg.name+'-normal',cfg.normalX,cfg.half,cfg.normalBox,y,'#5068e0','#12126e');
  drawProteinBox(g,cfg.name+'-tumor',cfg.tumorX,cfg.half,cfg.tumorBox,y,'#f23a0c','#6a1000');
}
const panelsB=[
 {id:'zplot-rcc',name:'clear-cell-rcc',axisX:97,axisR:526,anchor:[3,1599,-3,1859],ticks:rccTicks,labelRight:84,normalX:206,tumorX:419,half:52,normalBox:rccNormalBox,tumorBox:rccTumorBox},
 {id:'zplot-luad',name:'luad-protein',axisX:590,axisR:1000,anchor:[3,1597.5,-3,1857],ticks:luadProteinTicks,labelRight:580,normalX:698,tumorX:911,half:52,normalBox:luadProteinNormalBox,tumorBox:luadProteinTumorBox},
 {id:'zplot-paad',name:'paad-protein',axisX:1059,axisR:1527,anchor:[3,1589.5,-3,1854],ticks:paadProteinTicks,labelRight:1047,normalX:1176.5,tumorX:1409.5,half:56.5,normalBox:paadProteinNormalBox,tumorBox:paadProteinTumorBox},
 {id:'zplot-hcc',name:'hcc-protein',axisX:1591,axisR:2019,anchor:[4,1589.5,-3,1850],ticks:hccTicks,labelRight:1578,normalX:1698,tumorX:1912,half:52,normalBox:hccNormalBox,tumorBox:hccTumorBox}
];
panelsB.forEach(drawProteinPanel);

function smoothSegments(pts){
  let d='';
  for(let i=0;i<pts.length-1;i++){
    const p0=pts[Math.max(i-1,0)],p1=pts[i],p2=pts[i+1],p3=pts[Math.min(i+2,pts.length-1)];
    d+='C'+(p1[0]+(p2[0]-p0[0])/6)+' '+(p1[1]+(p2[1]-p0[1])/6)+' '+(p2[0]-(p3[0]-p1[0])/6)+' '+(p2[1]-(p3[1]-p1[1])/6)+' '+p2[0]+' '+p2[1];
  }
  return d;
}
function drawViolin(g,prefix,cx,maxHalf,values,density,box,y){
  const right=values.map(function(v,i){return [cx+density[i]*maxHalf,y(v)];});
  const left=values.map(function(v,i){return [cx-density[i]*maxHalf,y(v)];}).reverse();
  const d='M'+right[0][0]+' '+right[0][1]+smoothSegments(right)+'L'+left[0][0]+' '+left[0][1]+smoothSegments(left)+'Z';
  const body=mk(g,'path',{d:d,fill:'#e6221b',stroke:'#c9574f','stroke-width':1.2});
  
  
  const stem=mk(g,'line',{x1:cx,x2:cx,y1:y(values[0]),y2:y(values[values.length-1]),stroke:'#8a1712','stroke-width':1.5});
  
  
  const iqr=mk(g,'line',{x1:cx,x2:cx,y1:y(box[2]),y2:y(box[0]),stroke:'#000','stroke-width':6.5});
  
  
  const med=mk(g,'circle',{cx:cx+1,cy:y(box[1]),r:4.8,fill:'#fff'});
  
  
}
function drawViolinPanel(cfg){
  const g=document.getElementById(cfg.id);
  const y=linear(cfg.anchor[0],cfg.anchor[1],cfg.anchor[2],cfg.anchor[3]);
  const frame=mk(g,'rect',{x:cfg.L,y:cfg.T,width:cfg.R-cfg.L,height:cfg.B-cfg.T,fill:'none',stroke:'#999','stroke-width':2});
  
  
  cfg.ticks.forEach(function(t){
    const tick=mk(g,'line',{x1:cfg.L-11,x2:cfg.L,y1:y(t),y2:y(t),stroke:'#999','stroke-width':1.8});
    
    
    const label=mk(g,'text',{transform:'translate('+(cfg.tickX+10)+','+y(t)+') rotate(-90)','text-anchor':'middle','font-size':27,fill:'#444'},String(t));
    
    
  });
  cfg.stages.forEach(function(s,i){
    const cx=cfg.xs[i];
    const tick=mk(g,'line',{x1:cx,x2:cx,y1:cfg.B,y2:cfg.B+11,stroke:'#999','stroke-width':1.8});
    
    
    const label=mk(g,'text',{x:cx-1,y:2498,'text-anchor':'middle','font-size':26,fill:'#444'},s);
    
    
    drawViolin(g,cfg.name+'-stage-'+s.toLowerCase(),cx,cfg.maxHalf,cfg.values[i],cfg.density[i],cfg.boxes[i],y);
  });
}
const panelsC=[
 {id:'violin-acc',name:'acc',L:125,R:648,T:2024,B:2457.6,anchor:[2,2402.5,6,2058],ticks:accTicks,tickX:95,stages:accStages,xs:[205.5,326,447,568],maxHalf:48,values:[accIValues,accIIValues,accIIIValues,accIVValues],density:[accIDensity,accIIDensity,accIIIDensity,accIVDensity],boxes:[accIBox,accIIBox,accIIIBox,accIVBox]},
 {id:'violin-coad',name:'coad',L:818,R:1357,T:2025,B:2455,anchor:[1,2409.5,4,2106.5],ticks:coadTicks,tickX:785,stages:coadStages,xs:[900.5,1024,1150,1274],maxHalf:50,values:[coadIValues,coadIIValues,coadIIIValues,coadIVValues],density:[coadIDensity,coadIIDensity,coadIIIDensity,coadIVDensity],boxes:[coadIBox,coadIIBox,coadIIIBox,coadIVBox]},
 {id:'violin-tgct',name:'tgct',L:1546.5,R:1977,T:2024,B:2454,anchor:[3,2357.5,6,2035],ticks:tgctTicks,tickX:1515,stages:tgctStages,xs:[1628.7,1761.5,1894],maxHalf:53,values:[tgctIValues,tgctIIValues,tgctIIIValues],density:[tgctIDensity,tgctIIDensity,tgctIIIDensity],boxes:[tgctIBox,tgctIIBox,tgctIIIBox]}
];
panelsC.forEach(drawViolinPanel);
</script>
</body>
</html>
